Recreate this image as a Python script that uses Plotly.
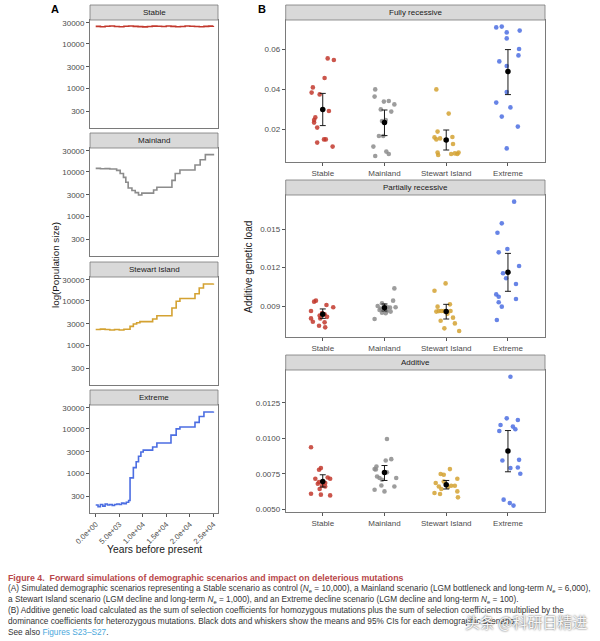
import plotly.graph_objects as go

W, H = 600, 641
FONT = "Liberation Sans, Arial, sans-serif"

# ---------------- Panel A data (step trajectories) ----------------
scenarios = ["Stable", "Mainland", "Stewart Island", "Extreme"]
colors = ["#C2382D", "#8C8C8C", "#D4A232", "#4C6EE2"]

years_stable = [0, 1000, 2000, 3000, 4000, 5000, 6000, 7000, 8000, 9000, 10000, 11000, 12000,
                13000, 14000, 15000, 16000, 17000, 18000, 19000, 20000, 21000, 22000, 23000, 24000, 25000]
size_stable = [24800, 24300, 24900, 25200, 24600, 24400, 24900, 25300, 24800, 24500, 24200, 24700, 25100,
               24900, 24600, 25300, 24800, 24400, 24700, 25200, 25000, 24600, 24300, 24800, 25100, 25300]

years_mainland = [0, 1000, 2000, 3000, 4450, 5200, 5900, 6400, 6900, 7700, 8400, 9100, 9800,
                  12300, 13000, 16200, 16900, 17900, 21100, 22200, 23300, 25000]
size_mainland = [12000, 11700, 11800, 11600, 10800, 9200, 7500, 5800, 4300, 3800, 3400, 3000, 3300,
                 3900, 4500, 6400, 9200, 11000, 14300, 18700, 24500, 25600]

years_stewart = [0, 1000, 2000, 3000, 4000, 5000, 6000, 7300, 8000, 8700, 9400, 12100, 13000,
                 16200, 17100, 17900, 21100, 22000, 22900, 25000]
size_stewart = [2250, 2300, 2250, 2200, 2250, 2200, 2280, 2650, 3000, 3200, 3400, 3900, 4600,
                6900, 9800, 11300, 14500, 19500, 24000, 24500]

years_extreme = [0, 500, 1000, 1500, 2000, 2500, 3000, 3500, 4000, 4500, 5000, 5500, 6000, 6500, 7000,
                 7300, 8000, 8600, 9100, 9600, 10100, 12100, 13000, 16000, 17100, 17900, 21100, 22000,
                 23000, 25000]
size_extreme = [190, 175, 195, 180, 200, 190, 195, 185, 195, 200, 195, 210, 205, 220, 240,
                780, 1330, 1800, 2400, 3000, 3300, 3900, 4800, 7200, 10000, 11000, 14000, 19000,
                24000, 24500]

traj_years = [years_stable, years_mainland, years_stewart, years_extreme]
traj_sizes = [size_stable, size_mainland, size_stewart, size_extreme]

pop_ticks = [300, 1000, 3000, 10000, 30000]
year_ticks = [0, 5000, 10000, 15000, 20000, 25000]
year_ticklabels = ["0.0e+00", "5.0e+03", "1.0e+04", "1.5e+04", "2.0e+04", "2.5e+04"]

# ---------------- Panel B data (genetic load) ----------------
load_types = ["Fully recessive", "Partially recessive", "Additive"]

fully_recessive_y = [
    [0.0553, 0.0545, 0.0455, 0.0408, 0.0382, 0.0373, 0.0290, 0.0258, 0.0245, 0.0232, 0.0207, 0.0148, 0.0148, 0.0132, 0.0112],
    [0.0398, 0.0362, 0.0340, 0.0337, 0.0323, 0.0298, 0.0287, 0.0240, 0.0245, 0.0165, 0.0165, 0.0112, 0.0087, 0.0075, 0.0065],
    [0.0398, 0.0277, 0.0187, 0.0158, 0.0153, 0.0160, 0.0125, 0.0082, 0.0070, 0.0075, 0.0078, 0.0082, 0.0075, 0.0148, 0.0145],
    [0.0708, 0.0712, 0.0683, 0.0692, 0.0653, 0.0600, 0.0568, 0.0538, 0.0515, 0.0385, 0.0332, 0.0308, 0.0262, 0.0212, 0.0103],
]
fully_recessive_jitter = [
    [0.08, 0.18, 0.03, -0.16, -0.18, -0.05, 0.10, -0.12, -0.14, -0.14, -0.09, 0.02, 0.05, -0.09, 0.16],
    [-0.15, -0.16, 0.07, -0.01, 0.16, -0.06, 0.11, -0.04, 0.02, -0.09, -0.02, -0.18, 0.03, 0.07, -0.15],
    [-0.16, 0.04, -0.14, -0.19, -0.10, 0.10, 0.11, -0.14, -0.13, 0.08, 0.14, 0.20, 0.18, -0.16, -0.01],
    [-0.19, -0.10, -0.02, 0.19, -0.02, 0.18, 0.17, -0.14, -0.02, -0.02, -0.19, 0.04, -0.10, 0.16, -0.02],
]
fully_recessive_mean = [0.0298, 0.0232, 0.0145, 0.0487]
fully_recessive_lo = [0.0217, 0.0167, 0.0095, 0.0372]
fully_recessive_hi = [0.0378, 0.0295, 0.0195, 0.0597]

partially_recessive_y = [
    [0.00934, 0.00942, 0.00908, 0.00890, 0.00861, 0.00845, 0.00835, 0.00803, 0.00803, 0.00777, 0.00772, 0.00746, 0.00733, 0.00825, 0.00815],
    [0.01038, 0.00942, 0.00921, 0.00903, 0.00900, 0.00890, 0.00887, 0.00869, 0.00861, 0.00856, 0.00848, 0.00843, 0.00798, 0.00880, 0.00890],
    [0.01077, 0.01020, 0.00913, 0.00895, 0.00861, 0.00856, 0.00861, 0.00785, 0.00809, 0.00764, 0.00725, 0.00704, 0.00860, 0.00840, 0.00860],
    [0.01717, 0.01547, 0.01474, 0.01320, 0.01346, 0.01213, 0.01156, 0.01117, 0.01072, 0.00991, 0.00973, 0.00955, 0.00929, 0.00895, 0.00790],
]
partially_recessive_jitter = [
    [-0.14, -0.11, 0.06, 0.17, -0.19, -0.01, 0.03, -0.19, -0.04, -0.16, 0.03, -0.06, 0.04, -0.05, 0.07],
    [0.16, 0.14, -0.04, 0.00, -0.11, 0.18, 0.09, -0.08, 0.04, 0.10, -0.04, 0.02, -0.16, -0.06, 0.05],
    [-0.01, -0.19, 0.06, -0.14, -0.08, -0.16, 0.07, -0.09, 0.11, 0.14, -0.03, 0.21, -0.04, 0.02, -0.12],
    [0.10, -0.10, -0.17, -0.15, -0.01, 0.18, -0.08, -0.03, 0.13, -0.19, -0.15, 0.13, -0.15, -0.10, -0.18],
]
partially_recessive_mean = [0.00835, 0.00887, 0.00856, 0.01164]
partially_recessive_lo = [0.00803, 0.00861, 0.00798, 0.01015]
partially_recessive_hi = [0.00877, 0.00916, 0.00913, 0.01312]

additive_y = [
    [0.00937, 0.00790, 0.00778, 0.00715, 0.00724, 0.00715, 0.00692, 0.00685, 0.00666, 0.00661, 0.00643, 0.00610, 0.00603, 0.00598, 0.00680],
    [0.00995, 0.00853, 0.00843, 0.00801, 0.00783, 0.00731, 0.00720, 0.00720, 0.00708, 0.00668, 0.00661, 0.00638, 0.00626, 0.00780, 0.00760],
    [0.00783, 0.00748, 0.00743, 0.00715, 0.00685, 0.00696, 0.00666, 0.00666, 0.00661, 0.00657, 0.00643, 0.00626, 0.00615, 0.00608, 0.00584],
    [0.01432, 0.01140, 0.01128, 0.01093, 0.01082, 0.01063, 0.01051, 0.00843, 0.00848, 0.00790, 0.00794, 0.00750, 0.00568, 0.00544, 0.00526],
]
additive_jitter = [
    [-0.19, -0.03, -0.06, -0.12, 0.08, 0.12, -0.06, 0.04, -0.01, 0.04, -0.05, -0.19, -0.03, 0.12, -0.08],
    [0.04, 0.11, 0.02, -0.13, -0.16, -0.12, -0.08, 0.19, -0.04, -0.05, 0.16, -0.16, 0.00, -0.14, 0.04],
    [0.06, -0.09, -0.04, 0.18, -0.17, -0.04, 0.08, 0.14, -0.12, 0.03, -0.08, 0.18, -0.19, -0.10, 0.19],
    [0.04, -0.02, 0.16, -0.12, 0.08, 0.12, -0.14, -0.09, 0.18, 0.04, 0.16, 0.20, -0.07, 0.03, 0.09],
]
additive_mean = [0.00696, 0.00759, 0.00673, 0.00911]
additive_lo = [0.00657, 0.00703, 0.00643, 0.00764]
additive_hi = [0.00743, 0.00808, 0.00703, 0.01054]

load_y = [fully_recessive_y, partially_recessive_y, additive_y]
load_jitter = [fully_recessive_jitter, partially_recessive_jitter, additive_jitter]
load_mean = [fully_recessive_mean, partially_recessive_mean, additive_mean]
load_lo = [fully_recessive_lo, partially_recessive_lo, additive_lo]
load_hi = [fully_recessive_hi, partially_recessive_hi, additive_hi]
load_ranges = [[0.00335, 0.0745], [0.00655, 0.01769], [0.00479, 0.0148]]
load_tickvals = [[0.02, 0.04, 0.06], [0.009, 0.012, 0.015], [0.005, 0.0075, 0.01, 0.0125]]
load_ticktext = [["0.02", "0.04", "0.06"], ["0.009", "0.012", "0.015"], ["0.0050", "0.0075", "0.0100", "0.0125"]]

# ---------------- layout geometry (pixels) ----------------
def px_x(x):
    return x / W

def px_y(y):
    return 1 - y / H

A_X = (90, 218)
A_PANELS = [(20, 128), (148, 256), (277, 385), (405, 513)]
B_X = (285.7, 545)
B_PANELS = [(20, 162.3), (195, 337.3), (370, 512.3)]
STRIP_H = 15

fig = go.Figure()
layout = dict(
    template="none",
    width=W, height=H, margin=dict(l=0, r=0, t=0, b=0, pad=0), autosize=False,
    paper_bgcolor="white", plot_bgcolor="white", showlegend=False,
    font=dict(family=FONT, color="#4D4D4D", size=8),
)
shapes = []
annotations = []

axis_common = dict(showgrid=False, zeroline=False, showline=True, mirror=True, automargin=False,
                   linecolor="#7A7A7A", linewidth=0.8, ticks="outside", ticklen=3,
                   tickcolor="#555555", tickwidth=0.7,
                   tickfont=dict(family=FONT, size=8, color="#4D4D4D"))

def add_strip(x0, x1, top, label):
    shapes.append(dict(type="rect", xref="paper", yref="paper",
                       x0=px_x(x0), x1=px_x(x1), y0=px_y(top), y1=px_y(top - STRIP_H),
                       fillcolor="#D9D9D9", line=dict(color="#7A7A7A", width=0.8), layer="above"))
    annotations.append(dict(xref="paper", yref="paper", x=px_x((x0 + x1) / 2),
                            y=px_y(top - STRIP_H / 2), text=label, showarrow=False,
                            font=dict(family=FONT, size=8, color="#1A1A1A"),
                            xanchor="center", yanchor="middle"))

# Panel A
for i, name in enumerate(scenarios):
    n = i + 1
    xa = "x" if n == 1 else f"x{n}"
    ya = "y" if n == 1 else f"y{n}"
    top, bot = A_PANELS[i]
    fig.add_trace(go.Scatter(x=traj_years[i], y=traj_sizes[i], mode="lines",
                             line=dict(color=colors[i], width=1.6, shape="hv"),
                             xaxis=xa, yaxis=ya, hoverinfo="skip"))
    last = (i == 3)
    xaxis = dict(axis_common, domain=[px_x(A_X[0]), px_x(A_X[1])], range=[-1211, 25989],
                 anchor=ya, tickangle=-45, showticklabels=last)
    if last:
        xaxis.update(tickvals=year_ticks, ticktext=year_ticklabels,
                     tickfont=dict(family=FONT, size=7.6, color="#4D4D4D"))
    else:
        xaxis.update(ticks="", tickvals=year_ticks)
    layout[f"xaxis{'' if n == 1 else n}"] = xaxis
    layout[f"yaxis{'' if n == 1 else n}"] = dict(
        axis_common, domain=[px_y(bot), px_y(top)], type="log", range=[2.0989, 4.5383],
        anchor=xa, tickvals=pop_ticks, ticktext=[str(v) for v in pop_ticks])
    add_strip(A_X[0], A_X[1], top, name)

# Panel B
for j, lt in enumerate(load_types):
    n = 5 + j
    xa, ya = f"x{n}", f"y{n}"
    top, bot = B_PANELS[j]
    for i in range(4):
        xs = [i + d for d in load_jitter[j][i]]
        fig.add_trace(go.Scatter(x=xs, y=load_y[j][i], mode="markers",
                                 marker=dict(color=colors[i], size=4.6, opacity=0.85, line=dict(width=0)),
                                 xaxis=xa, yaxis=ya, hoverinfo="skip"))
    means = load_mean[j]
    fig.add_trace(go.Scatter(
        x=list(range(4)), y=means, mode="markers",
        marker=dict(color="black", size=5.5),
        error_y=dict(type="data", symmetric=False,
                     array=[h - m for h, m in zip(load_hi[j], means)],
                     arrayminus=[m - l for m, l in zip(means, load_lo[j])],
                     color="#1A1A1A", thickness=1, width=3),
        xaxis=xa, yaxis=ya, hoverinfo="skip"))
    layout[f"xaxis{n}"] = dict(axis_common, domain=[px_x(B_X[0]), px_x(B_X[1])], range=[-0.6, 3.6],
                               anchor=ya, tickvals=[0, 1, 2, 3], ticktext=scenarios)
    layout[f"yaxis{n}"] = dict(axis_common, domain=[px_y(bot), px_y(top)], range=load_ranges[j],
                               anchor=xa, tickvals=load_tickvals[j], ticktext=load_ticktext[j])
    add_strip(B_X[0], B_X[1], top, lt)

# Titles and panel letters
annotations += [
    dict(xref="paper", yref="paper", x=px_x(154), y=px_y(549), text="Years before present",
         showarrow=False, font=dict(family=FONT, size=10.3, color="#1A1A1A"),
         xanchor="center", yanchor="middle"),
    dict(xref="paper", yref="paper", x=px_x(56), y=px_y(265), text="log(Population size)",
         textangle=-90, showarrow=False, font=dict(family=FONT, size=9.8, color="#1A1A1A"),
         xanchor="center", yanchor="middle"),
    dict(xref="paper", yref="paper", x=px_x(248), y=px_y(267), text="Additive genetic load",
         textangle=-90, showarrow=False, font=dict(family=FONT, size=10, color="#1A1A1A"),
         xanchor="center", yanchor="middle"),
    dict(xref="paper", yref="paper", x=px_x(55), y=px_y(9), text="<b>A</b>", showarrow=False,
         font=dict(family=FONT, size=11, color="black"), xanchor="center", yanchor="middle"),
    dict(xref="paper", yref="paper", x=px_x(262), y=px_y(9), text="<b>B</b>", showarrow=False,
         font=dict(family=FONT, size=11, color="black"), xanchor="center", yanchor="middle"),
]

# Caption
Ne = "<i>N</i><sub>e</sub>"
caption_lines = [
    "(A) Simulated demographic scenarios representing a Stable scenario as control (" + Ne + " = 10,000), a Mainland scenario (LGM bottleneck and long-term " + Ne + " = 6,000),",
    "a Stewart Island scenario (LGM decline and long-term " + Ne + " = 1,000), and an Extreme decline scenario (LGM decline and long-term " + Ne + " = 100).",
    "(B) Additive genetic load calculated as the sum of selection coefficients for homozygous mutations plus the sum of selection coefficients multiplied by the",
    "dominance coefficients for heterozygous mutations. Black dots and whiskers show the means and 95% CIs for each demographic scenario.",
    "See also <span style='color:#4AA8DC'>Figures S23–S27</span>.",
]
caption_y = [589, 600, 610.5, 621, 632]
annotations.append(dict(xref="paper", yref="paper", x=px_x(6), y=px_y(578),
                        text="<b>Figure 4.  Forward simulations of demographic scenarios and impact on deleterious mutations</b>",
                        showarrow=False, xanchor="left", yanchor="middle",
                        font=dict(family=FONT, size=8.8, color="#B8474A")))
for t, yy in zip(caption_lines, caption_y):
    annotations.append(dict(xref="paper", yref="paper", x=px_x(6), y=px_y(yy), text=t,
                            showarrow=False, xanchor="left", yanchor="middle",
                            font=dict(family=FONT, size=8.25, color="#333333")))

# watermark
annotations.append(dict(xref="paper", yref="paper", x=px_x(526), y=px_y(621), text="头条 @科研日精进",
                        showarrow=False, xanchor="center", yanchor="middle",
                        font=dict(family="Noto Sans CJK SC", size=15, color="rgba(255,255,255,0.95)",
                                  shadow="0px 0px 2px #222")))

layout["shapes"] = shapes
layout["annotations"] = annotations
fig.update_layout(**layout)
fig.write_html("out.html", config={"displayModeBar": False},
               post_script="document.body.style.margin='0';document.body.style.padding='0';"
                           "document.documentElement.style.overflow='hidden';")
